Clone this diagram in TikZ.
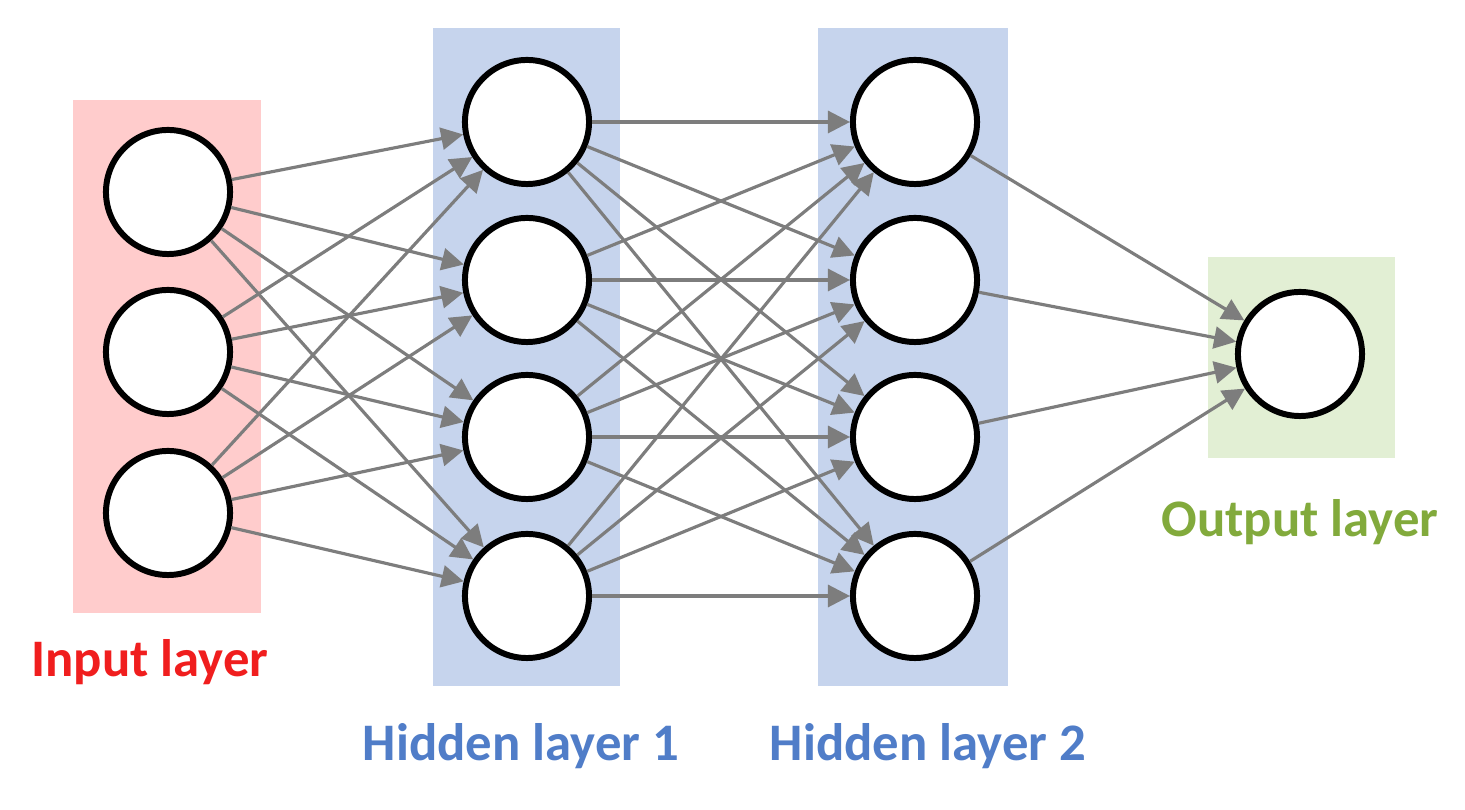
\documentclass[tikz,border=0pt]{standalone}
\usepackage{fontspec}
\setmainfont{Carlito}
\usetikzlibrary{arrows.meta}
\definecolor{pinkbg}{RGB}{255,204,204}
\definecolor{bluebg}{RGB}{198,212,237}
\definecolor{greenbg}{RGB}{226,239,212}
\definecolor{redtxt}{RGB}{240,30,30}
\definecolor{bluetxt}{RGB}{80,125,200}
\definecolor{greentxt}{RGB}{130,170,60}
\definecolor{edge}{RGB}{125,125,125}
\begin{document}
\begin{tikzpicture}[x=0.01cm,y=-0.01cm,
  neuron/.style={circle,draw=black,line width=1.7pt,fill=white,minimum size=1.24cm,inner sep=0pt},
  conn/.style={draw=edge,line width=0.9pt,-{Triangle[length=0.22cm,width=0.22cm]}},
  lbl/.style={font=\fontsize{15}{17}\selectfont\bfseries}]
\useasboundingbox (0,0) rectangle (1465,810);
\fill[pinkbg] (73,100) rectangle (261,613);
\fill[bluebg] (433,28) rectangle (620,686);
\fill[bluebg] (818,28) rectangle (1008,686);
\fill[greenbg] (1208,257) rectangle (1395,458);
\foreach \i/\y in {1/192,2/352,3/513} \node[neuron] (i\i) at (168,\y) {};
\foreach \i/\y in {1/122,2/280,3/437,4/596} {
  \node[neuron] (a\i) at (527,\y) {};
  \node[neuron] (b\i) at (915,\y) {};
}
\node[neuron] (o) at (1300,354) {};
\begin{scope}[on background layer/.style={}]
\foreach \i in {1,2,3} \foreach \j in {1,2,3,4} \draw[conn] (i\i) -- (a\j);
\foreach \i in {1,2,3,4} \foreach \j in {1,2,3,4} \draw[conn] (a\i) -- (b\j);
\foreach \i in {1,2,3,4} \draw[conn] (b\i) -- (o);
\end{scope}
\node[lbl,text=redtxt] (tin) at (150,662) {Input layer};
\node[lbl,text=bluetxt] (th1) at (521,746) {Hidden layer 1};
\node[lbl,text=bluetxt] (th2) at (928,746) {Hidden layer 2};
\node[lbl,text=greentxt] (tout) at (1300,522) {Output layer};
\end{tikzpicture}
\end{document}
